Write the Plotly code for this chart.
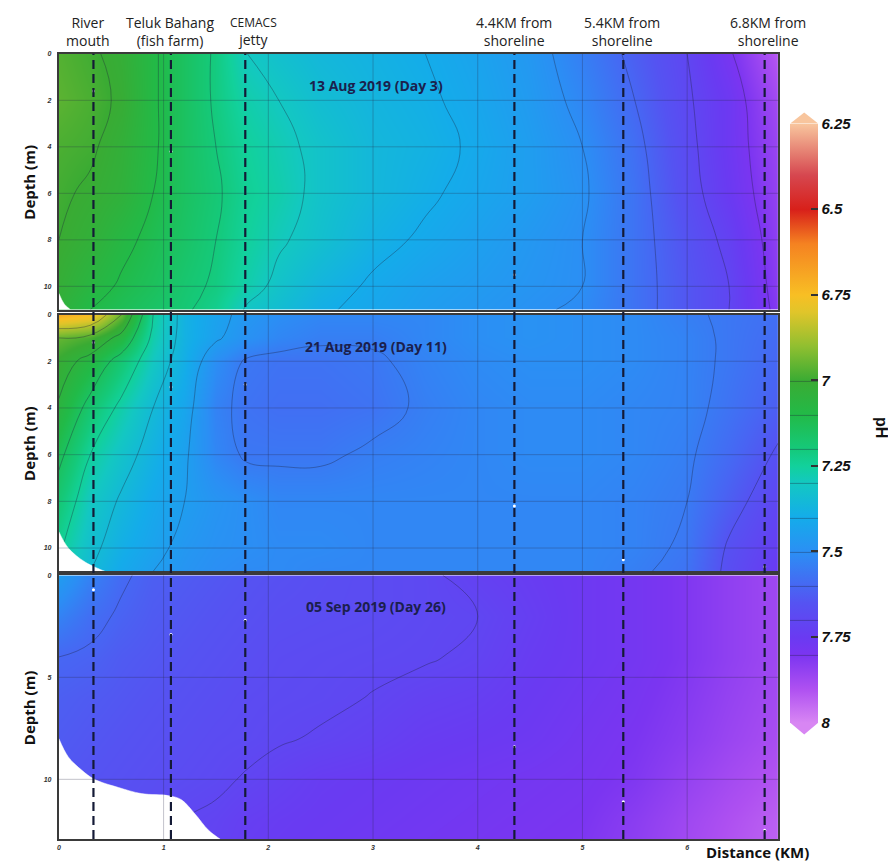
import numpy as np
import plotly.graph_objects as go

W, H = 896, 861
OFF = 8  # page body margin in the browser
FW, FH = W - OFF, H - OFF

# ---------------- data ----------------
dist_km = [0.0, 0.3, 0.6, 0.9, 1.2, 1.5, 1.8, 2.1, 2.5, 3.0, 3.5, 4.0, 4.5, 5.0, 5.5, 6.0, 6.4, 6.87]

depth_p1 = [0, 2, 4, 6, 8, 10, 11]
ph_13aug = [
    [6.97, 6.99, 7.02, 7.09, 7.15, 7.21, 7.30, 7.33, 7.36, 7.38, 7.40, 7.43, 7.47, 7.54, 7.62, 7.70, 7.79, 7.92],
    [6.96, 6.98, 7.01, 7.09, 7.15, 7.21, 7.27, 7.30, 7.34, 7.37, 7.39, 7.42, 7.46, 7.52, 7.60, 7.69, 7.76, 7.88],
    [6.98, 6.99, 7.03, 7.09, 7.15, 7.20, 7.25, 7.28, 7.32, 7.36, 7.38, 7.41, 7.45, 7.50, 7.58, 7.68, 7.76, 7.86],
    [6.99, 7.01, 7.04, 7.10, 7.15, 7.19, 7.24, 7.27, 7.32, 7.36, 7.39, 7.42, 7.45, 7.49, 7.57, 7.67, 7.75, 7.85],
    [7.00, 7.03, 7.08, 7.12, 7.16, 7.20, 7.25, 7.29, 7.33, 7.38, 7.41, 7.44, 7.47, 7.50, 7.57, 7.65, 7.72, 7.84],
    [7.02, 7.07, 7.11, 7.14, 7.18, 7.21, 7.27, 7.32, 7.37, 7.41, 7.44, 7.46, 7.48, 7.50, 7.57, 7.64, 7.70, 7.83],
    [7.04, 7.10, 7.13, 7.16, 7.19, 7.23, 7.31, 7.34, 7.39, 7.42, 7.45, 7.47, 7.49, 7.51, 7.57, 7.64, 7.70, 7.82],
]

depth_p2 = [0, 1, 2, 4, 6, 8, 10, 11]
ph_21aug = [
    [6.70, 6.74, 6.95, 7.25, 7.38, 7.43, 7.47, 7.50, 7.52, 7.52, 7.52, 7.50, 7.49, 7.50, 7.51, 7.54, 7.56, 7.58],
    [6.95, 6.98, 7.08, 7.27, 7.38, 7.44, 7.49, 7.52, 7.54, 7.54, 7.52, 7.50, 7.49, 7.50, 7.51, 7.53, 7.56, 7.59],
    [7.01, 7.08, 7.19, 7.30, 7.39, 7.50, 7.56, 7.57, 7.57, 7.56, 7.53, 7.51, 7.50, 7.50, 7.51, 7.53, 7.56, 7.60],
    [7.06, 7.18, 7.27, 7.35, 7.42, 7.53, 7.57, 7.58, 7.58, 7.57, 7.54, 7.52, 7.51, 7.51, 7.52, 7.53, 7.57, 7.62],
    [7.13, 7.25, 7.32, 7.38, 7.44, 7.52, 7.56, 7.56, 7.56, 7.54, 7.53, 7.52, 7.51, 7.51, 7.52, 7.54, 7.59, 7.66],
    [7.19, 7.30, 7.36, 7.41, 7.45, 7.48, 7.50, 7.52, 7.52, 7.52, 7.52, 7.52, 7.52, 7.52, 7.53, 7.55, 7.62, 7.70],
    [7.24, 7.33, 7.39, 7.43, 7.47, 7.49, 7.50, 7.51, 7.51, 7.52, 7.52, 7.52, 7.52, 7.52, 7.53, 7.56, 7.66, 7.73],
    [7.26, 7.35, 7.41, 7.45, 7.48, 7.50, 7.51, 7.51, 7.52, 7.52, 7.52, 7.52, 7.52, 7.52, 7.54, 7.57, 7.67, 7.75],
]

depth_p3 = [0, 2, 4, 6, 8, 10, 12, 13]
ph_05sep = [
    [7.45, 7.53, 7.59, 7.62, 7.63, 7.64, 7.65, 7.66, 7.67, 7.68, 7.69, 7.72, 7.74, 7.76, 7.78, 7.81, 7.84, 7.87],
    [7.53, 7.58, 7.61, 7.63, 7.64, 7.65, 7.66, 7.67, 7.675, 7.68, 7.69, 7.70, 7.73, 7.76, 7.78, 7.81, 7.84, 7.87],
    [7.60, 7.61, 7.63, 7.64, 7.65, 7.66, 7.67, 7.68, 7.685, 7.69, 7.695, 7.71, 7.74, 7.76, 7.78, 7.81, 7.84, 7.87],
    [7.62, 7.63, 7.64, 7.65, 7.66, 7.67, 7.68, 7.685, 7.69, 7.702, 7.72, 7.73, 7.75, 7.77, 7.79, 7.82, 7.85, 7.88],
    [7.63, 7.64, 7.65, 7.66, 7.67, 7.68, 7.685, 7.695, 7.705, 7.72, 7.74, 7.75, 7.76, 7.78, 7.80, 7.83, 7.86, 7.89],
    [7.64, 7.65, 7.66, 7.67, 7.68, 7.69, 7.705, 7.72, 7.74, 7.75, 7.76, 7.77, 7.78, 7.79, 7.81, 7.85, 7.88, 7.91],
    [7.65, 7.66, 7.67, 7.68, 7.70, 7.71, 7.73, 7.74, 7.75, 7.76, 7.77, 7.78, 7.79, 7.80, 7.83, 7.87, 7.90, 7.93],
    [7.65, 7.66, 7.67, 7.685, 7.705, 7.715, 7.735, 7.745, 7.755, 7.765, 7.775, 7.785, 7.795, 7.805, 7.835, 7.875, 7.905, 7.935],
]

# seabed (no-data) boundary per panel
seabed1_km = [0.0, 0.05, 0.11]
seabed1_depth = [10.3, 10.75, 11.0]
seabed2_km = [0.0, 0.09, 0.25, 0.44]
seabed2_depth = [9.3, 10.0, 10.6, 11.0]
seabed3_km = [0.0, 0.09, 0.22, 0.34, 0.57, 0.79, 1.05, 1.17, 1.30, 1.43, 1.54]
seabed3_depth = [8.0, 8.9, 9.56, 10.0, 10.4, 10.7, 10.8, 11.0, 11.7, 12.5, 12.93]

# sampling points (white dots)
samp1_km = [0.33, 1.07, 4.35]
samp1_depth = [1.6, 4.2, 9.5]
samp2_km = [0.33, 1.07, 1.78, 4.35, 5.39, 6.74]
samp2_depth = [1.2, 3.1, 3.0, 8.2, 10.5, 10.8]
samp3_km = [0.33, 1.07, 1.78, 4.35, 5.39, 6.74]
samp3_depth = [0.7, 2.9, 2.2, 8.4, 11.1, 12.5]

station_km = [0.33, 1.07, 1.78, 4.35, 5.39, 6.74]
station_labels = ["River<br>mouth", "Teluk Bahang<br>(fish farm)",
                  "<span style='font-size:12px'>CEMACS</span><br>jetty",
                  "4.4KM from<br>shoreline", "5.4KM from<br>shoreline", "6.8KM from<br>shoreline"]
station_label_shift = [-5, -1, 8, 0, -1, 3]

panel_titles = ["13 Aug 2019 (Day 3)", "21 Aug 2019 (Day 11)", "05 Sep 2019 (Day 26)"]
x_ticks = [0, 1, 2, 3, 4, 5, 6]
y_ticks_p12 = [0, 2, 4, 6, 8, 10]
y_ticks_p3 = [0, 5, 10]
cbar_ticks = [6.25, 6.5, 6.75, 7, 7.25, 7.5, 7.75, 8]
contour_levels = [(7.0, 7.8), (6.85, 7.65), (7.6, 7.7)]

# ---------------- style ----------------
X_MAX = 6.87
depth_max = [11.0, 11.0, 12.93]
PH_MIN, PH_MAX = 6.25, 8.0

def px(x):
    return (x - OFF) / FW

def py(y):
    return 1 - (y - OFF) / FH

x_dom = [px(57), px(778)]
y_doms = [[py(307), py(50)], [py(570), py(312)], [py(839), py(574)]]

ph_color_stops = [
    (8.0, "#d886f3"), (7.9, "#ae50f1"), (7.8, "#7b35f1"), (7.75, "#6a3af2"),
    (7.65, "#5553f2"), (7.5, "#2b8ff4"), (7.4, "#14acea"), (7.3, "#13c8c2"),
    (7.25, "#12d19c"), (7.2, "#15c97a"), (7.1, "#22ba48"), (7.0, "#3aab33"),
    (6.9, "#90bf30"), (6.8, "#e0c52a"), (6.75, "#f8bf24"), (6.6, "#f58221"),
    (6.5, "#d8201a"), (6.4, "#d6474f"), (6.25, "#f8c59d"),
]
colorscale = [[(PH_MAX - v) / (PH_MAX - PH_MIN), c] for v, c in ph_color_stops]

fig = go.Figure()

data_sets = [(depth_p1, ph_13aug), (depth_p2, ph_21aug), (depth_p3, ph_05sep)]
seabeds = [(seabed1_km, seabed1_depth), (seabed2_km, seabed2_depth), (seabed3_km, seabed3_depth)]
samples = [(samp1_km, samp1_depth), (samp2_km, samp2_depth), (samp3_km, samp3_depth)]

tickfont = dict(family="Liberation Sans", size=7, color="#333", weight="bold", style="italic")

for i in range(3):
    xa = "x" if i == 0 else f"x{i+1}"
    ya = "y" if i == 0 else f"y{i+1}"
    depths, vals = data_sets[i]
    z = -np.array(vals)  # negated so the colour bar runs 6.25 (top) -> 8 (bottom)
    lo, hi = contour_levels[i]
    fig.add_trace(go.Contour(
        x=dist_km, y=depths, z=z, xaxis=xa, yaxis=ya,
        zmin=-PH_MAX, zmax=-PH_MIN, colorscale=colorscale,
        contours=dict(coloring="heatmap", start=-hi, end=-lo + 0.001, size=0.1, showlines=True),
        line=dict(color="rgba(30,35,60,0.45)", width=0.8, smoothing=1.3),
        showscale=(i == 0), hoverinfo="skip",
        colorbar=dict(
            x=px(790), xanchor="left", xpad=0, ypad=0,
            thickness=28, thicknessmode="pixels",
            len=602 / FH, lenmode="fraction", y=py(421), yanchor="middle",
            outlinewidth=0,
            tickvals=[-v for v in cbar_ticks], ticktext=[f"{v:g}" for v in cbar_ticks],
            ticks="inside", ticklen=7, tickcolor="#333", tickwidth=1.5,
            tickfont=dict(family="Liberation Sans", size=15, color="#111", weight="bold", style="italic"),
        ),
    ))
    # no-data region below the seabed
    sb_x, sb_d = seabeds[i]
    poly_x = list(sb_x) + [sb_x[-1], 0.0]
    poly_y = list(sb_d) + [depth_max[i], depth_max[i]]
    fig.add_trace(go.Scatter(
        x=poly_x, y=poly_y, xaxis=xa, yaxis=ya, mode="lines", fill="toself",
        fillcolor="white", line=dict(color="white", width=0.5, shape="spline"),
        hoverinfo="skip", showlegend=False,
    ))
    s_x, s_d = samples[i]
    fig.add_trace(go.Scatter(
        x=s_x, y=s_d, xaxis=xa, yaxis=ya, mode="markers",
        marker=dict(color="white", size=3), hoverinfo="skip", showlegend=False,
    ))

layout = dict(
    width=FW, height=FH, margin=dict(l=0, r=0, t=0, b=0),
    paper_bgcolor="white", plot_bgcolor="white", showlegend=False,
)
for i in range(3):
    xk = "xaxis" if i == 0 else f"xaxis{i+1}"
    yk = "yaxis" if i == 0 else f"yaxis{i+1}"
    yname = "y" if i == 0 else f"y{i+1}"
    layout[xk] = dict(
        domain=x_dom, range=[0, X_MAX], anchor=yname,
        showgrid=False, zeroline=False, showline=True, mirror=True,
        linecolor="#3a3a3a", linewidth=2,
        tickvals=x_ticks, showticklabels=(i == 2), ticks="",
        tickfont=tickfont,
    )
    if i > 0:
        layout[xk]["matches"] = "x"
    layout[yk] = dict(
        domain=y_doms[i], range=[depth_max[i], 0], anchor="x" if i == 0 else f"x{i+1}",
        showgrid=False, zeroline=False, showline=True, mirror=True,
        linecolor="#3a3a3a", linewidth=2,
        tickvals=y_ticks_p12 if i < 2 else y_ticks_p3, ticks="",
        tickfont=tickfont, ticklabelstandoff=4,
    )
fig.update_layout(**layout)

shapes = []
annotations = []
grid_col = "rgba(40,40,70,0.28)"
for i in range(3):
    xr = "x" if i == 0 else f"x{i+1}"
    yr = "y" if i == 0 else f"y{i+1}"
    for t in x_ticks[1:]:
        shapes.append(dict(type="line", xref=xr, yref=f"{yr} domain", x0=t, x1=t, y0=0, y1=1,
                           line=dict(color=grid_col, width=1), layer="above"))
    for t in (y_ticks_p12 if i < 2 else y_ticks_p3)[1:]:
        shapes.append(dict(type="line", xref=f"{xr} domain", yref=yr, x0=0, x1=1, y0=t, y1=t,
                           line=dict(color=grid_col, width=1), layer="above"))
    # panel title
    annotations.append(dict(text=panel_titles[i], xref="paper", yref=f"{yr} domain",
                            x=px(375), y=1, yshift=-20, xanchor="center", showarrow=False,
                            font=dict(family="Open Sans", size=14, color="#1b1f4d", weight="bold")))
    # y axis title
    annotations.append(dict(text="Depth (m)", xref="paper", yref=f"{yr} domain",
                            x=px(27), y=0.5, xanchor="center", yanchor="middle",
                            textangle=-90, showarrow=False,
                            font=dict(family="Open Sans", size=15, color="#111", weight="bold")))

# station dashed lines through all panels
for s in station_km:
    shapes.append(dict(type="line", xref="x", yref="paper", x0=s, x1=s,
                       y0=y_doms[2][0], y1=y_doms[0][1],
                       line=dict(color="#141a36", width=2.2, dash="9px,5px"), layer="above"))
for s, lab, sh in zip(station_km, station_labels, station_label_shift):
    annotations.append(dict(text=lab, xref="x", yref="paper", x=s, y=py(28), xshift=sh,
                            showarrow=False, xanchor="center", yanchor="middle",
                            font=dict(family="Open Sans", size=14, color="#222")))

annotations.append(dict(text="Distance (KM)", xref="paper", yref="paper", x=px(757), y=py(852),
                        xanchor="center", yanchor="middle", showarrow=False,
                        font=dict(family="Open Sans", size=15, color="#111", weight="bold")))
annotations.append(dict(text="pH", xref="paper", yref="paper", x=px(882), y=py(425),
                        xanchor="center", yanchor="middle", textangle=90, showarrow=False,
                        font=dict(family="Liberation Sans", size=16, color="#111", weight="bold")))

# colour bar end arrows
top_c = [c for v, c in ph_color_stops if v == PH_MIN][0]
bot_c = [c for v, c in ph_color_stops if v == PH_MAX][0]
shapes.append(dict(type="path", xref="paper", yref="paper",
                   path=f"M {px(790)} {py(120)} L {px(804)} {py(109)} L {px(818)} {py(120)} Z",
                   fillcolor=top_c, line=dict(width=0)))
shapes.append(dict(type="path", xref="paper", yref="paper",
                   path=f"M {px(790)} {py(722)} L {px(804)} {py(734)} L {px(818)} {py(722)} Z",
                   fillcolor=bot_c, line=dict(width=0)))

fig.update_layout(shapes=shapes, annotations=annotations)
fig.write_html("out.html")
